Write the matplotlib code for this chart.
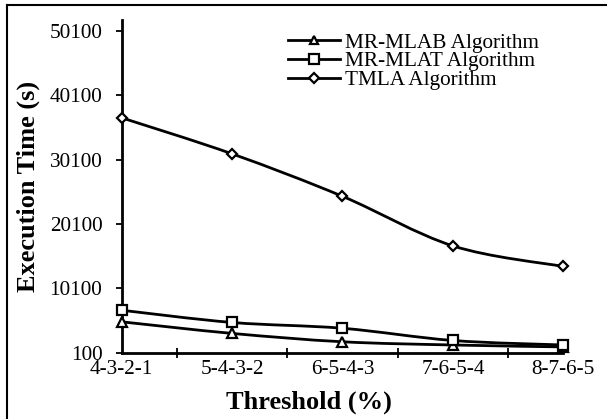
import numpy as np
import matplotlib
matplotlib.use("Agg")
import matplotlib.pyplot as plt
from matplotlib.path import Path
from matplotlib.patches import PathPatch
from matplotlib.lines import Line2D

categories = ["4-3-2-1", "5-4-3-2", "6-5-4-3", "7-6-5-4", "8-7-6-5"]
mr_mlab = [4900, 3100, 1800, 1300, 1000]
mr_mlat = [6700, 4800, 3900, 2000, 1300]
tmla = [36600, 31000, 24400, 16700, 13500]
yticks = [100, 10100, 20100, 30100, 40100, 50100]

plt.rcParams['font.family'] = ['Liberation Serif', 'DejaVu Serif']

fig = plt.figure(figsize=(6.07, 4.19), dpi=100)
ax = fig.add_axes([0.2005, 0.1582, 0.7275, 0.7941])


def smooth_path(xs, ys):
    # Excel style smoothed line (Catmull-Rom as cubic bezier)
    pts = np.column_stack([xs, ys]).astype(float)
    n = len(pts)
    verts = [pts[0]]
    codes = [Path.MOVETO]
    for i in range(n - 1):
        p0 = pts[max(i - 1, 0)]
        p1 = pts[i]
        p2 = pts[i + 1]
        p3 = pts[min(i + 2, n - 1)]
        c1 = p1 + (p2 - p0) / 6.0
        c2 = p2 - (p3 - p1) / 6.0
        verts += [c1, c2, p2]
        codes += [Path.CURVE4] * 3
    return Path(verts, codes)


x = np.arange(len(categories))
series = [
    ("MR-MLAB Algorithm", mr_mlab, "^", 6.5),
    ("MR-MLAT Algorithm", mr_mlat, "s", 7),
    ("TMLA Algorithm", tmla, "D", 5.5),
]
handles = []
for name, vals, mk, ms in series:
    patch = PathPatch(smooth_path(x, vals), facecolor='none', edgecolor='black',
                      lw=2.0, transform=ax.transData, zorder=2)
    ax.add_patch(patch)
    ax.plot(x, vals, linestyle='none', marker=mk, markersize=ms,
            markerfacecolor='white', markeredgecolor='black', markeredgewidth=1.6,
            zorder=3, clip_on=False)
    handles.append(Line2D([], [], color='black', lw=2.0, marker=mk, markersize=ms - 0.5,
                          markerfacecolor='white', markeredgecolor='black',
                          markeredgewidth=1.6, label=name))

ax.set_xlim(0, 4)
ax.set_ylim(100, 51800)
ax.set_yticks(yticks)
ax.set_yticklabels([str(v) for v in yticks])
ax.set_xticks(x)
ax.set_xticklabels(categories)
ax.set_xticks([0.5, 1.5, 2.5, 3.5, 4], minor=True)

for s in ['top', 'right']:
    ax.spines[s].set_visible(False)
for s in ['left', 'bottom']:
    ax.spines[s].set_linewidth(2.0)

ax.tick_params(axis='y', direction='out', length=4, width=1.3, labelsize=15.3, pad=10)
ax.tick_params(axis='x', which='major', length=0, labelsize=15.3, pad=5.5)
ax.tick_params(axis='x', which='minor', direction='inout', length=7, width=1.3)

ax.set_xlabel("Threshold (%)", fontsize=19, fontweight='bold', va='center')
ax.xaxis.set_label_coords(0.424, -0.148)
ax.set_ylabel("Execution Time (s)", fontsize=19, fontweight='bold', va='center')
ax.yaxis.set_label_coords(-0.212, 0.5)

ax.legend(handles=handles, loc='upper left', bbox_to_anchor=(0.474, 0.922),
          bbox_transform=fig.transFigure, frameon=False, fontsize=15.3,
          handlelength=2.45, handletextpad=0.25, labelspacing=-0.05,
          borderpad=0, borderaxespad=0)

# outer frame (top and left edges visible)
fig.add_artist(Line2D([7 / 607, 1.0], [1 - 5 / 419, 1 - 5 / 419], color='black',
                      lw=1.5, transform=fig.transFigure))
fig.add_artist(Line2D([7 / 607, 7 / 607], [0, 1 - 5 / 419], color='black',
                      lw=1.5, transform=fig.transFigure))

fig.savefig("out.png", dpi=100)
